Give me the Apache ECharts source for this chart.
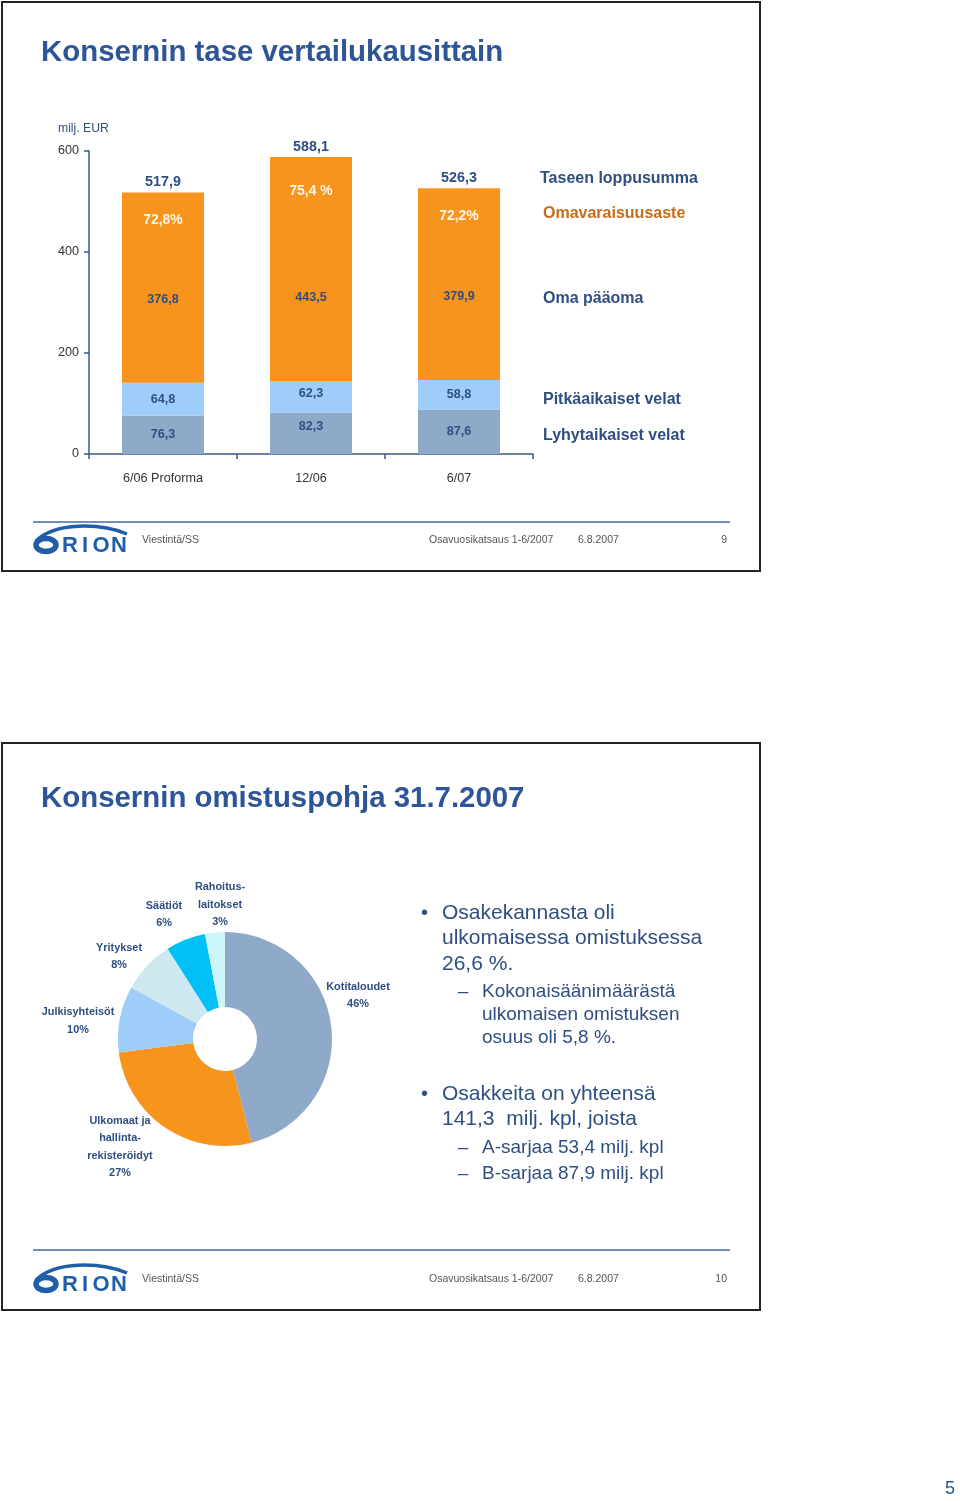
<!DOCTYPE html>
<html><head><meta charset="utf-8">
<script src="https://cdn.jsdelivr.net/npm/echarts@6/dist/echarts.min.js"></script>
<style>html,body{margin:0;padding:0;background:#fff}#c{width:960px;height:1502px}</style>
</head><body><div id="c"></div>
<script>
// ---- data: balance sheet ----
const categories = ['6/06 Proforma', '12/06', '6/07'];
const shortTermDebt = [76.3, 82.3, 87.6];     // Lyhytaikaiset velat
const longTermDebt = [64.8, 62.3, 58.8];      // Pitkäaikaiset velat
const equity = [376.8, 443.5, 379.9];         // Oma pääoma
const balanceTotal = [517.9, 588.1, 526.3];   // Taseen loppusumma
const equityRatio = ['72,8%', '75,4 %', '72,2%']; // Omavaraisuusaste
const yTickLabels = ['0', '200', '400', '600'];

// ---- data: ownership ----
const ownerNames = ['Kotitaloudet', 'Ulkomaat ja hallintarekisteröidyt', 'Julkisyhteisöt', 'Yritykset', 'Säätiöt', 'Rahoituslaitokset'];
const ownerLabels = ['Kotitaloudet', 'Ulkomaat ja\nhallinta-\nrekisteröidyt', 'Julkisyhteisöt', 'Yritykset', 'Säätiöt', 'Rahoitus-\nlaitokset'];
const ownerShares = [46, 27, 10, 8, 6, 3];

function hasFont(f) {
  const c = document.createElement('canvas').getContext('2d');
  const s = 'abcdefghijklmnopqrstuvwxyz0123456789ABCDEFG';
  c.font = '16px monospace'; const a = c.measureText(s).width;
  c.font = "16px '" + f + "', monospace"; const b = c.measureText(s).width;
  return Math.abs(a - b) > 0.5;
}
const hasNarrow = hasFont('Liberation Sans Narrow');
const NF = hasNarrow ? "'Liberation Sans Narrow', 'Liberation Sans', sans-serif" : "'Liberation Sans', sans-serif";
const ns = n => hasNarrow ? n : Math.round(n * 0.84 * 10) / 10;
const SF = "'Liberation Sans', Arial, sans-serif";

const NAVY = '#2f4e82';
const TITLE = '#2d5597';
const LOGO = '#1f5ea8';
const fmt = v => String(v).replace('.', ',');

const colShort = '#8eaac8', colLong = '#9fcdfa', colEq = '#f7941d';
const pieColors = ['#8eaac8', '#f7941d', '#9fcdfa', '#cde8ee', '#00c0f6', '#cdf6fb'];

function txt(text, x, y, size, color, opts) {
  opts = opts || {};
  return {
    type: 'text', silent: true,
    style: {
      text: text, x: x, y: y + 1.5,
      fontSize: size, fontFamily: opts.family || SF, fontWeight: opts.weight || 'normal',
      fill: color, textAlign: opts.align || 'left', textVerticalAlign: 'middle'
    }
  };
}

function footer(lineY, textY, pageNo) {
  const ly = textY - 13; // logo reference
  return [
    { type: 'line', silent: true, shape: { x1: 33, y1: lineY, x2: 730, y2: lineY }, style: { stroke: '#4467a3', lineWidth: 1.5 } },
    { type: 'bezierCurve', silent: true, shape: { x1: 36, y1: ly + 15, cpx1: 55, cpy1: ly - 4, cpx2: 100, cpy2: ly - 3, x2: 127, y2: ly + 8 }, style: { stroke: LOGO, lineWidth: 3.5, fill: null } },
    { type: 'ellipse', silent: true, shape: { cx: 46, cy: ly + 19, rx: 10, ry: 6.5 }, style: { stroke: LOGO, lineWidth: 5.5, fill: null } },
    txt('R', 70, ly + 18, 22, LOGO, { weight: 'bold', align: 'center' }),
    txt('I', 85, ly + 18, 22, LOGO, { weight: 'bold', align: 'center' }),
    txt('O', 101, ly + 18, 22, LOGO, { weight: 'bold', align: 'center' }),
    txt('N', 119, ly + 18, 22, LOGO, { weight: 'bold', align: 'center' }),
    txt('Viestintä/SS', 142, textY, 10.5, '#555'),
    txt('Osavuosikatsaus 1-6/2007', 429, textY, 10.5, '#555'),
    txt('6.8.2007', 578, textY, 10.5, '#555'),
    txt(pageNo, 727, textY, 10.5, '#555', { align: 'right' })
  ];
}

const graphics = [
  { type: 'rect', silent: true, shape: { x: 2, y: 2, width: 758, height: 569 }, style: { fill: null, stroke: '#222', lineWidth: 2 } },
  { type: 'rect', silent: true, shape: { x: 2, y: 743, width: 758, height: 567 }, style: { fill: null, stroke: '#222', lineWidth: 2 } },
  txt('Konsernin tase vertailukausittain', 41, 51, 29.4, TITLE, { weight: 'bold' }),
  txt('milj. EUR', 58, 127, ns(14.5), NAVY, { family: NF }),
  txt('Taseen loppusumma', 540, 177, ns(19), NAVY, { family: NF, weight: 'bold' }),
  txt('Omavaraisuusaste', 543, 212, ns(19), '#c46d1c', { family: NF, weight: 'bold' }),
  txt('Oma pääoma', 543, 297, ns(19), NAVY, { family: NF, weight: 'bold' }),
  txt('Pitkäaikaiset velat', 543, 398, ns(19), NAVY, { family: NF, weight: 'bold' }),
  txt('Lyhytaikaiset velat', 543, 434, ns(19), NAVY, { family: NF, weight: 'bold' }),
  txt('Konsernin omistuspohja 31.7.2007', 41, 797, 29.4, TITLE, { weight: 'bold' }),
  // bullets
  txt('•', 421, 912, 20, NAVY),
  txt('Osakekannasta oli', 442, 912, 21, NAVY),
  txt('ulkomaisessa omistuksessa', 442, 937, 21, NAVY),
  txt('26,6 %.', 442, 963, 21, NAVY),
  txt('–', 463, 990, 19, NAVY, { align: 'center' }),
  txt('Kokonaisäänimäärästä', 482, 990, 19, NAVY),
  txt('ulkomaisen omistuksen', 482, 1013, 19, NAVY),
  txt('osuus oli 5,8 %.', 482, 1036, 19, NAVY),
  txt('•', 421, 1093, 20, NAVY),
  txt('Osakkeita on yhteensä', 442, 1093, 21, NAVY),
  txt('141,3  milj. kpl, joista', 442, 1118, 21, NAVY),
  txt('–', 463, 1146, 19, NAVY, { align: 'center' }),
  txt('A-sarjaa 53,4 milj. kpl', 482, 1146, 19, NAVY),
  txt('–', 463, 1172, 19, NAVY, { align: 'center' }),
  txt('B-sarjaa 87,9 milj. kpl', 482, 1172, 19, NAVY),
  txt('5', 950, 1488, 18, TITLE, { align: 'center' })
].concat(footer(522, 539, '9'), footer(1250, 1278, '10'));

const valLabel = {
  show: true, position: 'inside', color: NAVY, fontFamily: NF, fontWeight: 'bold', fontSize: ns(15),
  formatter: p => fmt(p.value)
};

// label nudges to match the original slide's manual label placement
const shortOffsets = [[0, 0], [0, -7], [0, 0]];
const longOffsets = [[0, 0], [0, -3], [0, 0]];
const ratioDistances = [21, 27, 21];
const pieLabelPos = [[358, 995.5], [120, 1147], [78, 1021], [119, 956.5], [164, 914.5], [220, 904.5]];

const option = {
  animation: false,
  backgroundColor: '#fff',
  graphic: { elements: graphics },
  grid: { left: 89, top: 151, width: 444, height: 303, containLabel: false },
  xAxis: {
    type: 'category', data: categories,
    axisLine: { show: true, lineStyle: { color: '#3b5a8c', width: 1.5 } },
    axisTick: { show: true, length: 5, alignWithLabel: false, interval: 0, lineStyle: { color: '#3b5a8c', width: 1.5 } },
    axisLabel: { color: '#333', fontFamily: NF, fontSize: ns(15), margin: 18 }
  },
  yAxis: {
    type: 'value', min: 0, max: 600, interval: 200,
    axisLine: { show: true, lineStyle: { color: '#3b5a8c', width: 1.5 } },
    axisTick: { show: true, length: 5, lineStyle: { color: '#3b5a8c', width: 1.5 } },
    splitLine: { show: false },
    axisLabel: { color: '#333', fontFamily: NF, fontSize: ns(15), margin: 10, formatter: (v, i) => yTickLabels[i] }
  },
  series: [
    { name: 'Lyhytaikaiset velat', type: 'bar', stack: 'b', barWidth: 82, barGap: '-100%',
      data: shortTermDebt.map((v, i) => ({ value: v, label: { offset: shortOffsets[i] } })),
      itemStyle: { color: colShort }, label: valLabel },
    { name: 'Pitkäaikaiset velat', type: 'bar', stack: 'b', barWidth: 82, barGap: '-100%',
      data: longTermDebt.map((v, i) => ({ value: v, label: { offset: longOffsets[i] } })),
      itemStyle: { color: colLong }, label: valLabel },
    { name: 'Oma pääoma', type: 'bar', stack: 'b', barWidth: 82, barGap: '-100%', data: equity, itemStyle: { color: colEq },
      label: Object.assign({}, valLabel, { position: 'insideBottom', distance: 77 }) },
    { name: 'Taseen loppusumma', type: 'bar', barWidth: 82, barGap: '-100%', data: balanceTotal, itemStyle: { color: 'rgba(0,0,0,0)' }, z: 5,
      label: { show: true, position: 'top', distance: 3, color: NAVY, fontFamily: NF, fontWeight: 'bold', fontSize: ns(17), formatter: p => fmt(p.value) } },
    { name: 'Omavaraisuusaste', type: 'bar', barWidth: 82, barGap: '-100%',
      data: balanceTotal.map((v, i) => ({ value: v, label: { distance: ratioDistances[i] } })),
      itemStyle: { color: 'rgba(0,0,0,0)' }, z: 5,
      label: { show: true, position: 'insideTop', color: '#fff6e8', fontFamily: NF, fontWeight: 'bold', fontSize: ns(16.5), formatter: p => equityRatio[p.dataIndex] } },
    {
      name: 'Omistuspohja', type: 'pie', center: [225, 1039], radius: [32, 107], startAngle: 90, clockwise: true,
      data: ownerNames.map((n, i) => ({ name: n, value: ownerShares[i], itemStyle: { color: pieColors[i] } })),
      label: {
        show: true, position: 'outside', color: NAVY, fontFamily: NF, fontWeight: 'bold', fontSize: ns(13), lineHeight: 17.5, align: 'center',
        overflow: 'none', width: 200,
        formatter: p => ownerLabels[p.dataIndex] + '\n' + ownerShares[p.dataIndex] + '%'
      },
      labelLine: { show: false },
      labelLayout: p => ({ x: pieLabelPos[p.dataIndex][0], y: pieLabelPos[p.dataIndex][1], align: 'center', verticalAlign: 'middle' }),
      emphasis: { disabled: true }
    }
  ]
};

const chart = echarts.init(document.getElementById('c'), null, { renderer: 'canvas' });
chart.setOption(option);
</script>
</body></html>
